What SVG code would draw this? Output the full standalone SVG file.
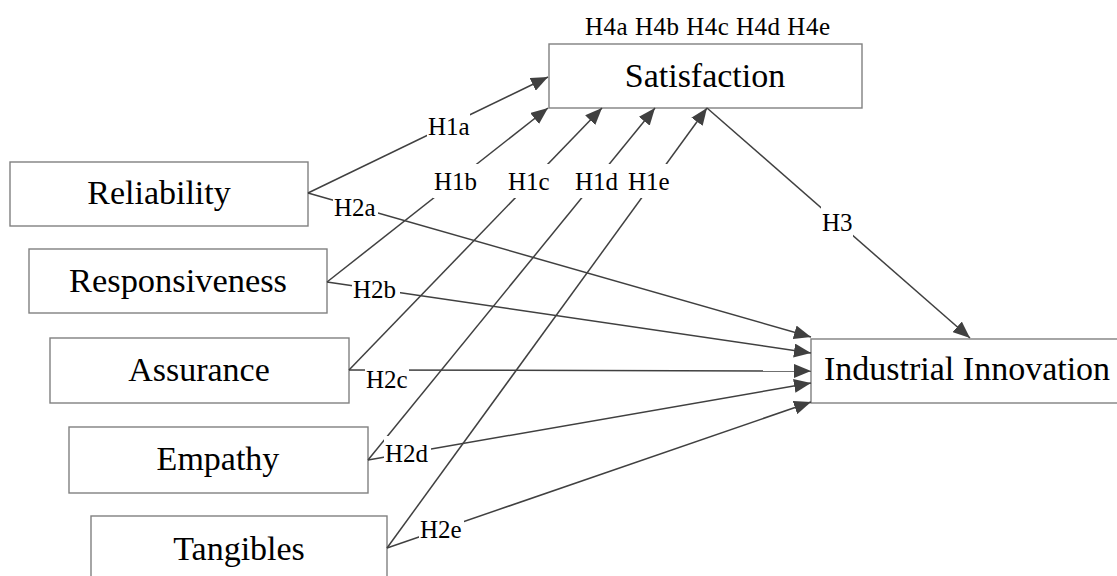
<svg xmlns="http://www.w3.org/2000/svg" width="1117" height="576" viewBox="0 0 1117 576">
<style>
.box{fill:#fff;stroke:#808080;stroke-width:1.4}
.nt{font-family:"Liberation Serif","Times New Roman",serif;font-size:34px;fill:#000;text-anchor:middle}
.lt{font-family:"Liberation Serif","Times New Roman",serif;font-size:25px;fill:#000}
.ln{fill:none;stroke:#404040;stroke-width:1.5}
.lb{fill:#fff;stroke:none}
</style>
<defs>
<marker id="ah" markerUnits="userSpaceOnUse" markerWidth="18" markerHeight="14" refX="17" refY="7" orient="auto">
<path d="M0,0 L17,7 L0,14 z" fill="#404040"/>
</marker>
</defs>
<rect width="1117" height="576" fill="#fff"/>
<g id="node-satisfaction"><rect class="box" x="549" y="44" width="313" height="64"/><text class="nt" x="705" y="87">Satisfaction</text></g>
<g id="node-reliability"><rect class="box" x="10" y="162" width="298" height="64"/><text class="nt" x="159" y="204">Reliability</text></g>
<g id="node-responsiveness"><rect class="box" x="29" y="249" width="298" height="64"/><text class="nt" x="178" y="292" textLength="218" lengthAdjust="spacingAndGlyphs">Responsiveness</text></g>
<g id="node-assurance"><rect class="box" x="50" y="338" width="299" height="65"/><text class="nt" x="199" y="381">Assurance</text></g>
<g id="node-empathy"><rect class="box" x="69" y="427" width="299" height="66"/><text class="nt" x="218" y="470">Empathy</text></g>
<g id="node-tangibles"><rect class="box" x="91" y="516" width="296" height="70"/><text class="nt" x="239" y="560">Tangibles</text></g>
<g id="node-innovation"><rect class="box" x="811" y="339" width="330" height="64"/><text class="nt" x="824" y="380" style="text-anchor:start">Industrial Innovation</text></g>
<g id="connectors">
<path class="ln" marker-end="url(#ah)" d="M308,193 L548,77"/>
<path class="ln" marker-end="url(#ah)" d="M327,282 L548,108"/>
<path class="ln" marker-end="url(#ah)" d="M349,370 L602,108"/>
<path class="ln" marker-end="url(#ah)" d="M368,460 L655,108"/>
<path class="ln" marker-end="url(#ah)" d="M387,548 L707,108"/>
<path class="ln" marker-end="url(#ah)" d="M707,108 L970,338"/>
<path class="ln" marker-end="url(#ah)" d="M308,193 L811,337"/>
<path class="ln" marker-end="url(#ah)" d="M327,282 L811,353"/>
<path class="ln" marker-end="url(#ah)" d="M349,370 L811,371"/>
<path class="ln" marker-end="url(#ah)" d="M368,460 L811,383"/>
<path class="ln" marker-end="url(#ah)" d="M387,548 L811,402"/>
</g>
<g id="labels">
<text class="lt" x="585" y="35" textLength="245" lengthAdjust="spacing">H4a H4b H4c H4d H4e</text>
<rect class="lb" x="427" y="109" width="43" height="34"/><text class="lt" x="428" y="135">H1a</text>
<rect class="lb" x="433" y="164" width="47" height="34"/><text class="lt" x="434" y="190">H1b</text>
<rect class="lb" x="507" y="164" width="43" height="34"/><text class="lt" x="508" y="190">H1c</text>
<rect class="lb" x="574" y="164" width="45" height="34"/><text class="lt" x="575" y="190">H1d</text>
<rect class="lb" x="627" y="164" width="43" height="34"/><text class="lt" x="628" y="190">H1e</text>
<rect class="lb" x="333" y="190" width="45" height="34"/><text class="lt" x="334" y="216">H2a</text>
<rect class="lb" x="352" y="272" width="48" height="34"/><text class="lt" x="353" y="298">H2b</text>
<rect class="lb" x="365" y="362" width="44" height="34"/><text class="lt" x="366" y="388">H2c</text>
<rect class="lb" x="384" y="436" width="47" height="34"/><text class="lt" x="385" y="462">H2d</text>
<rect class="lb" x="419" y="512" width="45" height="34"/><text class="lt" x="420" y="538">H2e</text>
<rect class="lb" x="821" y="205" width="32" height="34"/><text class="lt" x="822" y="231">H3</text>
</g>
</svg>
